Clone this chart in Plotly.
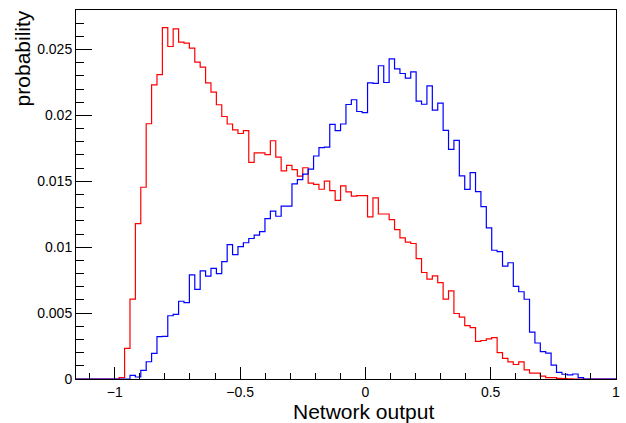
import plotly.graph_objects as go

# Histogram binning
x_min = -1.155
x_max = 1.0
n_bins = 100

# Red histogram (probability per bin)
red_values = [
    0, 0, 0, 0, 0, 0, 0, 0, 0.0001, 0.00232,
    0.00606, 0.01179, 0.01455, 0.01937, 0.02232, 0.0231, 0.02666, 0.02523, 0.02657, 0.02556,
    0.02548, 0.0251, 0.02404, 0.02366, 0.02247, 0.02177, 0.02081, 0.01992, 0.01935, 0.01891,
    0.01863, 0.01884, 0.01644, 0.01716, 0.01716, 0.01702, 0.01808, 0.01684, 0.0158, 0.01621,
    0.01588, 0.0154, 0.01603, 0.01487, 0.01477, 0.0144, 0.01502, 0.0143, 0.01356, 0.01465,
    0.0142, 0.01388, 0.01391, 0.01391, 0.0123, 0.01374, 0.01252, 0.01252, 0.0121, 0.01134,
    0.01071, 0.01038, 0.01028, 0.00914, 0.00808, 0.00758, 0.00782, 0.00732, 0.00606, 0.00669,
    0.00497, 0.0047, 0.00405, 0.0039, 0.00285, 0.00292, 0.00304, 0.00314, 0.002, 0.00157,
    0.0013, 0.0011, 0.0013, 0.0007, 0.00045, 0.00045, 0.00022, 0.0001, 0.0001, 0.00005,
    0.00003, 0.00002, 0, 0, 0, 0, 0, 0, 0, 0,
]

# Blue histogram (probability per bin)
blue_values = [
    0, 0, 0, 0, 0, 0, 0, 0, 0, 0,
    0.00028, 0.00015, 0.00066, 0.00131, 0.00194, 0.00321, 0.00323, 0.0048, 0.0049, 0.0059,
    0.0058, 0.0079, 0.0068, 0.0082, 0.0078, 0.0084, 0.008, 0.0089, 0.0102, 0.00944,
    0.01005, 0.01034, 0.01066, 0.01091, 0.01118, 0.01217, 0.01274, 0.01235, 0.01312, 0.01312,
    0.0148, 0.01513, 0.01555, 0.01593, 0.01692, 0.01756, 0.0176, 0.01932, 0.01884, 0.01935,
    0.02083, 0.02119, 0.0203, 0.02022, 0.02247, 0.02243, 0.02377, 0.0225, 0.02429, 0.02354,
    0.02318, 0.02283, 0.0233, 0.02109, 0.02085, 0.02225, 0.0204, 0.02094, 0.01886, 0.01742,
    0.01811, 0.01542, 0.01439, 0.01566, 0.01422, 0.01308, 0.01146, 0.00977, 0.00967, 0.00856,
    0.00882, 0.00703, 0.00662, 0.00605, 0.00356, 0.00273, 0.00207, 0.00196, 0.00106, 0.0005,
    0.00036, 0.00032, 0.00038, 0.0001, 0, 0, 0, 0, 0, 0,
]

x_tick_vals = [-1, -0.5, 0, 0.5, 1]
x_tick_text = ["\u22121", "\u22120.5", "0", "0.5", "1"]

bin_width = (x_max - x_min) / n_bins
edges = [x_min + i * bin_width for i in range(n_bins + 1)]

FONT = "Liberation Sans, Arial, Helvetica, sans-serif"

fig = go.Figure()
for vals, color in [(red_values, "#ff0000"), (blue_values, "#0000ff")]:
    fig.add_trace(go.Scatter(
        x=edges,
        y=list(vals) + [vals[-1]],
        mode="lines",
        line=dict(shape="hv", color=color, width=1.2),
        showlegend=False,
        hoverinfo="skip",
    ))

fig.update_layout(
    width=626, height=423,
    margin=dict(l=76, r=6, t=10, b=44),
    paper_bgcolor="white",
    plot_bgcolor="white",
    font=dict(family=FONT, size=14, color="black"),
    xaxis=dict(
        range=[x_min, x_max + 0.0004],
        showgrid=False, zeroline=False,
        showline=True, linecolor="black", linewidth=1, mirror=True,
        ticks="inside", ticklen=12, tickcolor="black", tickwidth=1,
        tickmode="array", tickvals=x_tick_vals, ticktext=x_tick_text,
        minor=dict(dtick=0.1, tick0=0, ticks="inside", ticklen=6, tickcolor="black", tickwidth=1, showgrid=False),
        tickfont=dict(family=FONT, size=14, color="black"),
    ),
    yaxis=dict(
        range=[0, 0.028],
        showgrid=False, zeroline=False,
        showline=True, linecolor="black", linewidth=1, mirror=True,
        ticks="inside", ticklen=16, tickcolor="black", tickwidth=1,
        dtick=0.005, tick0=0,
        minor=dict(dtick=0.001, tick0=0, ticks="inside", ticklen=8, tickcolor="black", tickwidth=1, showgrid=False),
        tickfont=dict(family=FONT, size=14, color="black"),
    ),
    annotations=[
        dict(text="Network output", xref="paper", yref="paper",
             x=(366 - 76) / 544, y=(379 - 411) / 369,
             xanchor="center", yanchor="middle", showarrow=False,
             font=dict(family=FONT, size=21, color="black")),
        dict(text="probability", xref="paper", yref="paper",
             x=(22 - 76) / 544, y=(379 - 58) / 369,
             xanchor="center", yanchor="middle", textangle=-90, showarrow=False,
             font=dict(family=FONT, size=21, color="black")),
    ],
)

# Remove the default page margin/scrollbars so the figure fills the window exactly.
fig.write_html(
    "out.html",
    config={"displayModeBar": False},
    post_script="document.body.style.margin='0';document.body.style.overflow='hidden';",
)
